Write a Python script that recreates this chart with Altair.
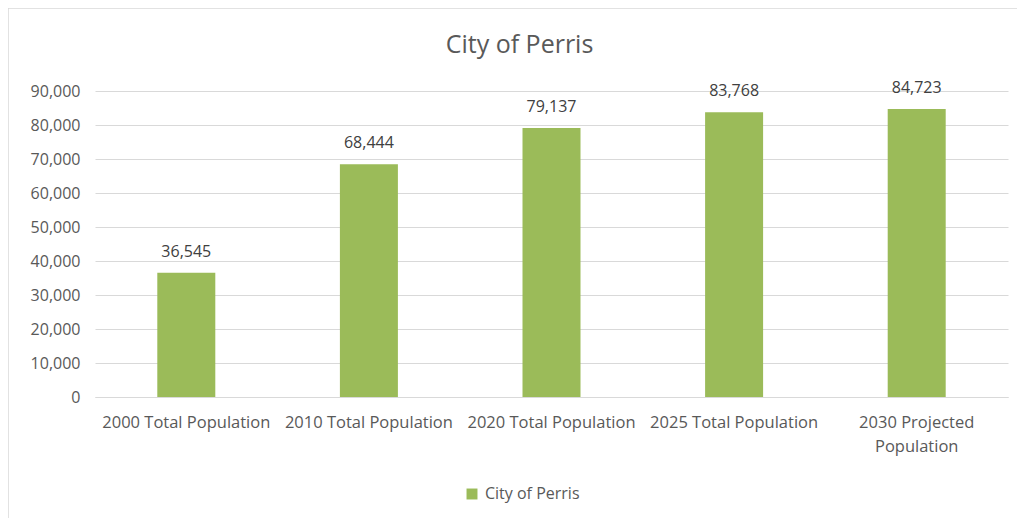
import altair as alt
import pandas as pd

categories = ["2000 Total Population", "2010 Total Population", "2020 Total Population",
              "2025 Total Population", "2030 Projected|Population"]
values = [36545, 68444, 79137, 83768, 84723]
series = "City of Perris"
y_ticks = [0, 10000, 20000, 30000, 40000, 50000, 60000, 70000, 80000, 90000]

df = pd.DataFrame({"cat": categories, "val": values, "series": series})

FONT = "Open Sans"
GREY = "#595959"

x = alt.X("cat:N", sort=categories, title=None,
          scale=alt.Scale(paddingInner=0.68, paddingOuter=0.34),
          axis=alt.Axis(labelExpr="split(datum.label, '|')", labelAngle=0, labelLimit=0,
                        labelFontSize=16.5, labelColor=GREY, labelFont=FONT, labelPadding=17,
                        labelLineHeight=24, ticks=False, domainColor="#d9d9d9", grid=False))
y = alt.Y("val:Q", title=None,
          scale=alt.Scale(domain=[0, 90000], nice=False),
          axis=alt.Axis(values=y_ticks, format=",.0f", labelFontSize=16,
                        labelColor=GREY, labelFont=FONT, labelPadding=15, ticks=False,
                        domain=False, gridColor="#d9d9d9"))

border = alt.Chart(pd.DataFrame({"a": [0]})).mark_rect(
    fill=None, stroke="#d9d9d9", strokeWidth=1.5, clip=False
).encode(x=alt.value(-87), x2=alt.value(1100), y=alt.value(-83), y2=alt.value(600))

bars = alt.Chart(df).mark_bar(size=58).encode(
    x=x, y=y,
    color=alt.Color("series:N", scale=alt.Scale(range=["#9BBB59"]),
                    legend=alt.Legend(title=None, orient="none", legendX=369, legendY=395,
                                      symbolType="square", symbolSize=120, labelFontSize=16,
                                      labelColor=GREY, labelFont=FONT, symbolStrokeWidth=0,
                                      labelOffset=5))
)
labels = alt.Chart(df).mark_text(dy=-13, baseline="bottom", fontSize=16, color="#404040", font=FONT).encode(
    x=x, y=y, text=alt.Text("val:Q", format=",")
)

chart = alt.layer(border, bars, labels).properties(
    width=913, height=306,
    autosize=alt.AutoSizeParams(type="none"),
    padding={"left": 87, "top": 83, "right": 9, "bottom": 121},
    title=alt.TitleParams("City of Perris", fontSize=25, font=FONT, color=GREY,
                          fontWeight="normal", anchor="middle", dx=-32, offset=-51)
).configure_view(stroke=None)

chart.save("out.html", embed_options={"renderer": "svg", "actions": False})
